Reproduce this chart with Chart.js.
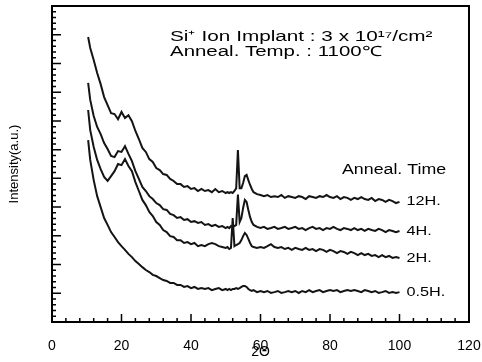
<!DOCTYPE html>
<html>
<head>
<meta charset="utf-8">
<script src="https://cdn.jsdelivr.net/npm/chart.js@4"></script>
<style>
  html, body { margin: 0; padding: 0; background: #fff; }
  canvas { display: block; }
</style>
</head>
<body>
<canvas id="xrd" width="482" height="362"></canvas>
<script>
// ---------- DATA ----------
const twoTheta = [
  10.4, 11, 12, 13, 14, 15, 16, 17, 18, 19,
  20, 21, 22, 23, 24, 25, 26, 27, 28, 29,
  30, 31, 32, 33, 34, 35, 36, 37, 38, 39,
  40, 41, 42, 43, 44, 45, 46, 47, 48, 49,
  50, 50.5, 51, 51.5, 52, 52.5, 53, 53.5, 54, 54.5, 55, 55.5, 56, 56.5, 57, 57.5, 58,
  59, 60, 61, 62, 63, 64, 65, 66, 67, 68,
  69, 70, 71, 72, 73, 74, 75, 76, 77, 78,
  79, 80, 81, 82, 83, 84, 85, 86, 87, 88,
  89, 90, 91, 92, 93, 94, 95, 96, 97, 98,
  99, 100
];

const h12 = [
  99.2, 95.4, 91.2, 86.7, 82.8, 78.3, 75.5, 72.7, 72.4, 70.6,
  73.1, 71.0, 72.0, 69.9, 66.5, 63.7, 60.6, 59.2, 56.7, 55.7,
  53.6, 52.9, 51.5, 51.2, 49.8, 49.1, 48.0, 48.0, 47.0, 47.3,
  46.3, 46.6, 45.6, 46.3, 45.6, 45.9, 45.2, 46.3, 45.2, 45.6,
  44.9, 45.2, 44.9, 45.2, 44.9, 45.6, 46.5, 59.9, 46.6, 46.6, 48.4, 50.8, 51.2, 49.4, 47.7, 46.3, 45.2,
  44.5, 44.2, 43.8, 44.2, 43.5, 43.8, 43.5, 44.2, 43.2, 43.8,
  43.5, 43.2, 43.8, 43.5, 42.8, 43.8, 43.5, 43.2, 43.8, 43.5,
  44.2, 43.5, 43.2, 43.8, 42.8, 43.5, 43.2, 42.5, 43.2, 42.8,
  43.5, 42.8, 42.5, 43.2, 42.1, 42.8, 42.5, 41.8, 42.5, 42.1,
  41.4, 41.8
];

const h4 = [
  83.2, 77.3, 71.7, 67.9, 65.4, 62.3, 60.2, 57.8, 57.4, 59.5,
  59.2, 61.2, 58.5, 56.0, 52.5, 49.8, 47.0, 45.6, 43.8, 42.8,
  41.4, 40.7, 39.3, 39.0, 37.6, 37.2, 36.2, 36.5, 35.5, 35.8,
  34.8, 35.1, 34.5, 34.8, 33.8, 34.1, 33.4, 33.8, 33.1, 33.4,
  32.7, 33.1, 32.7, 33.4, 33.1, 33.4, 33.8, 44.4, 34.8, 36.2, 39.7, 42.5, 41.8, 39.0, 36.5, 34.8, 33.8,
  33.1, 32.7, 33.1, 32.4, 32.7, 33.1, 32.4, 32.7, 33.1, 32.4,
  32.7, 33.1, 32.4, 32.7, 32.0, 32.7, 33.1, 32.4, 32.7, 32.0,
  32.7, 32.4, 33.1, 32.4, 32.0, 32.7, 32.4, 32.0, 32.7, 32.0,
  32.4, 31.7, 32.4, 32.0, 31.7, 32.4, 32.0, 31.3, 32.0, 31.7,
  31.3, 31.7
];

const h2 = [
  73.8, 66.8, 60.9, 56.4, 53.2, 50.5, 49.1, 50.8, 52.5, 55.0,
  54.6, 56.7, 54.3, 52.5, 48.7, 45.6, 42.5, 40.7, 38.3, 36.9,
  34.8, 33.8, 32.0, 31.3, 29.9, 29.6, 28.5, 28.5, 27.5, 27.8,
  27.1, 27.5, 26.4, 26.8, 26.4, 27.1, 27.5, 27.1, 26.4, 26.1,
  25.8, 26.1, 25.4, 25.8, 36.2, 26.4, 26.8, 27.1, 27.5, 28.5, 29.9, 31.0, 30.3, 28.9, 27.5, 26.4, 26.1,
  25.8, 26.1, 25.8, 26.4, 27.1, 26.1, 25.8, 26.1, 25.4, 25.8,
  25.1, 25.8, 25.4, 25.1, 25.8, 25.1, 25.4, 24.7, 25.4, 25.1,
  24.4, 25.1, 24.7, 24.0, 24.7, 24.4, 23.7, 24.4, 24.0, 23.3,
  24.0, 23.3, 23.7, 23.0, 23.3, 22.6, 23.3, 22.6, 23.0, 22.3,
  22.6, 22.3
];

const h05 = [
  63.3, 56.4, 49.4, 43.8, 40.0, 36.2, 33.8, 31.3, 29.6, 27.8,
  26.4, 25.1, 23.7, 22.6, 21.2, 20.2, 19.1, 18.1, 17.4, 16.4,
  16.0, 15.3, 14.6, 14.3, 13.6, 13.6, 12.9, 12.9, 12.2, 12.5,
  11.8, 12.2, 11.5, 11.8, 11.5, 11.8, 11.1, 11.5, 11.8, 11.1,
  11.5, 11.1, 11.5, 11.1, 11.5, 11.5, 11.8, 11.5, 11.8, 12.2, 12.5, 12.5, 12.2, 11.5, 11.1, 10.8, 11.1,
  10.4, 10.8, 10.4, 10.8, 10.1, 10.4, 10.8, 10.1, 10.4, 10.8,
  10.4, 10.8, 10.1, 10.8, 10.4, 11.1, 10.4, 10.8, 11.1, 10.4,
  10.8, 11.1, 10.8, 11.1, 10.4, 10.8, 11.1, 10.8, 11.1, 10.8,
  10.4, 11.1, 10.8, 10.4, 10.8, 10.1, 10.4, 10.8, 10.1, 10.4,
  10.1, 10.4
];

const seriesNames = ["12H.", "4H.", "2H.", "0.5H."];
const seriesValues = [h12, h4, h2, h05];

const noteLines = ["Si\u207A Ion Implant : 3 x 10\u00B9\u2077/cm\u00B2", "Anneal. Temp. : 1100\u2103"];
const legendTitle = "Anneal. Time";

// ---------- HELPERS ----------
const FONT = '"Liberation Sans", Arial, Helvetica, sans-serif';

// the scan's lettering is stretched sideways, so draw it wide
function wideText(ctx, str, x, y, size, stretch) {
  ctx.save();
  ctx.translate(x, y);
  ctx.scale(stretch, 1);
  ctx.font = size + "px " + FONT;
  ctx.fillText(str, 0, 0);
  ctx.restore();
}

// frame, inward ticks and the notes
const frameTicks = {
  id: "frameTicks",
  afterDraw(chart) {
    const { ctx, chartArea: a, scales: { x, y } } = chart;
    ctx.save();
    ctx.strokeStyle = "#000";
    ctx.lineWidth = 2;
    ctx.strokeRect(a.left, a.top, a.right - a.left, a.bottom - a.top);

    ctx.lineWidth = 1.5;
    ctx.beginPath();
    for (let v = 0; v <= 120; v += 4) {
      const px = x.getPixelForValue(v);
      const len = v % 20 === 0 ? 8 : 4;
      ctx.moveTo(px, a.bottom);
      ctx.lineTo(px, a.bottom - len);
    }
    for (let v = 0; v <= 110; v += 2) {
      const py = y.getPixelForValue(v);
      const len = v % 10 === 0 ? 9 : 4;
      ctx.moveTo(a.left, py);
      ctx.lineTo(a.left + len, py);
    }
    ctx.stroke();

    ctx.fillStyle = "#000";
    ctx.textAlign = "left";
    ctx.textBaseline = "middle";
    wideText(ctx, noteLines[0], a.left + 118, a.top + 31, 14, 1.48);
    wideText(ctx, noteLines[1], a.left + 118, a.top + 46, 14, 1.46);
    wideText(ctx, legendTitle, a.left + 290, a.top + 164, 14, 1.27);

    seriesValues.forEach((vals, i) => {
      wideText(ctx, seriesNames[i], x.getPixelForValue(102), y.getPixelForValue(vals[vals.length - 1]), 13, 1.25);
    });
    ctx.restore();
  }
};

// ---------- CHART ----------
const ctx = document.getElementById("xrd").getContext("2d");

new Chart(ctx, {
  type: "line",
  data: {
    datasets: seriesValues.map((vals, i) => ({
      label: seriesNames[i],
      data: twoTheta.map((t, k) => ({ x: t, y: vals[k] })),
      borderColor: "#141414",
      borderWidth: 2,
      pointRadius: 0,
      tension: 0,
      fill: false
    }))
  },
  options: {
    responsive: false,
    animation: false,
    devicePixelRatio: 1,
    layout: { padding: { left: 0, right: 13, top: 6, bottom: 0 } },
    plugins: { legend: { display: false }, tooltip: { enabled: false } },
    scales: {
      x: {
        type: "linear",
        min: 0,
        max: 120,
        afterFit: (s) => { s.height = 40; s.paddingLeft = 0; s.paddingRight = 0; },
        grid: { display: false },
        border: { color: "#000", width: 2 },
        ticks: { stepSize: 20, color: "#000", padding: 8, font: { family: FONT, size: 14 } },
        title: { display: true, text: "2\u0398", color: "#000", font: { family: FONT, size: 14 }, padding: { top: 0, bottom: 1 } }
      },
      y: {
        min: 0,
        max: 110,
        afterFit: (s) => { s.width = 52; },
        grid: { display: false },
        border: { color: "#000", width: 2 },
        ticks: { display: false },
        title: { display: true, text: "Intensity(a.u.)", color: "#000", font: { family: FONT, size: 13 }, padding: { top: 7, bottom: 0 } }
      }
    }
  },
  plugins: [frameTicks]
});
</script>
</body>
</html>
